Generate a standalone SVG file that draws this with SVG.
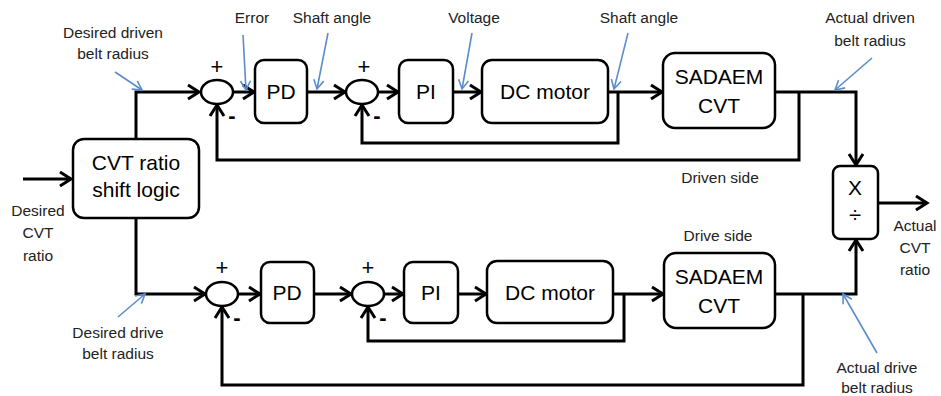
<svg xmlns="http://www.w3.org/2000/svg" width="941" height="396" viewBox="0 0 941 396">
<style>
.box{fill:#fff;stroke:#000;stroke-width:2.5}
.sum{fill:#fff;stroke:#000;stroke-width:2.5}
.w{fill:none;stroke:#000;stroke-width:3;stroke-linejoin:miter}
.b{fill:none;stroke:#5b8ccc;stroke-width:1.6}
.t{font-family:"Liberation Sans",Arial,sans-serif;font-size:21px;fill:#000;text-anchor:middle}
.l{font-family:"Liberation Sans",Arial,sans-serif;font-size:15.5px;fill:#222;text-anchor:middle}
.s{font-family:"Liberation Sans",Arial,sans-serif;font-size:22px;fill:#000;text-anchor:middle}
.m{font-family:"Liberation Sans",Arial,sans-serif;font-size:22px;font-weight:bold;fill:#000;text-anchor:middle}
</style>
<defs>
<marker id="ah" markerUnits="userSpaceOnUse" markerWidth="16" markerHeight="20" refX="13" refY="9" orient="auto">
<path d="M2,2 L13,9 L2,16" fill="none" stroke="#000" stroke-width="3"/>
</marker>
<marker id="bh" markerUnits="userSpaceOnUse" markerWidth="12" markerHeight="12" refX="10" refY="6" orient="auto">
<path d="M1,1 L10,6 L1,11" fill="none" stroke="#5b8ccc" stroke-width="1.6"/>
</marker>
</defs>

<g id="connectors">
<path class="w" d="M23,179 H71" marker-end="url(#ah)"/>
<path class="w" d="M136,139 V92 H199" marker-end="url(#ah)"/>
<path class="w" d="M233,92 H254" marker-end="url(#ah)"/>
<path class="w" d="M307,92 H345" marker-end="url(#ah)"/>
<path class="w" d="M379,92 H398" marker-end="url(#ah)"/>
<path class="w" d="M453,92 H481" marker-end="url(#ah)"/>
<path class="w" d="M608,92 H662" marker-end="url(#ah)"/>
<path class="w" d="M618,92 V143 H362 V105" marker-end="url(#ah)"/>
<path class="w" d="M775,92 H856 V165" marker-end="url(#ah)"/>
<path class="w" d="M799,92 V160 H217 V105" marker-end="url(#ah)"/>
<path class="w" d="M136,218 V294 H205" marker-end="url(#ah)"/>
<path class="w" d="M239,294 H260" marker-end="url(#ah)"/>
<path class="w" d="M314,294 H351" marker-end="url(#ah)"/>
<path class="w" d="M385,294 H403" marker-end="url(#ah)"/>
<path class="w" d="M458,294 H486" marker-end="url(#ah)"/>
<path class="w" d="M613,294 H663" marker-end="url(#ah)"/>
<path class="w" d="M624,294 V341 H368 V307" marker-end="url(#ah)"/>
<path class="w" d="M775,294 H856 V240" marker-end="url(#ah)"/>
<path class="w" d="M803,294 V385 H222 V307" marker-end="url(#ah)"/>
<path class="w" d="M878,203 H927" marker-end="url(#ah)"/>
<path class="b" d="M115,72 L142,90" marker-end="url(#bh)"/>
<path class="b" d="M243,35 L246,90" marker-end="url(#bh)"/>
<path class="b" d="M328,33 L317,89" marker-end="url(#bh)"/>
<path class="b" d="M472,33 L462,89" marker-end="url(#bh)"/>
<path class="b" d="M628,33 L614,89" marker-end="url(#bh)"/>
<path class="b" d="M872,58 L835,90" marker-end="url(#bh)"/>
<path class="b" d="M118,317 L145,294" marker-end="url(#bh)"/>
<path class="b" d="M877,353 L843,294" marker-end="url(#bh)"/>
</g>

<g id="shift-logic">
<rect class="box" x="73" y="139" width="126" height="79" rx="11"/>
<text class="t" x="136" y="170">CVT ratio</text>
<text class="t" x="136" y="197">shift logic</text>
</g>

<g id="sum1-top">
<ellipse class="sum" cx="217" cy="92" rx="16" ry="12"/>
<text class="s" x="217" y="74">+</text>
<text class="m" x="232" y="123">-</text>
</g>
<g id="pd-top">
<rect class="box" x="255" y="60" width="52" height="63" rx="9"/>
<text class="t" x="281" y="99">PD</text>
</g>
<g id="sum2-top">
<ellipse class="sum" cx="362" cy="92" rx="16" ry="12"/>
<text class="s" x="364" y="74">+</text>
<text class="m" x="377" y="123">-</text>
</g>
<g id="pi-top">
<rect class="box" x="399" y="60" width="54" height="63" rx="9"/>
<text class="t" x="426" y="99">PI</text>
</g>
<g id="dc-top">
<rect class="box" x="482" y="60" width="126" height="63" rx="10"/>
<text class="t" x="545" y="99">DC motor</text>
</g>
<g id="cvt-top">
<rect class="box" x="663" y="53" width="112" height="75" rx="12"/>
<text class="t" x="719" y="84">SADAEM</text>
<text class="t" x="719" y="113">CVT</text>
</g>

<g id="sum1-bot">
<ellipse class="sum" cx="222" cy="294" rx="16" ry="12"/>
<text class="s" x="222" y="275">+</text>
<text class="m" x="237" y="325">-</text>
</g>
<g id="pd-bot">
<rect class="box" x="261" y="262" width="53" height="61" rx="9"/>
<text class="t" x="287" y="300">PD</text>
</g>
<g id="sum2-bot">
<ellipse class="sum" cx="368" cy="294" rx="16" ry="12"/>
<text class="s" x="368" y="275">+</text>
<text class="m" x="383" y="325">-</text>
</g>
<g id="pi-bot">
<rect class="box" x="404" y="262" width="54" height="61" rx="9"/>
<text class="t" x="431" y="300">PI</text>
</g>
<g id="dc-bot">
<rect class="box" x="487" y="261" width="126" height="62" rx="10"/>
<text class="t" x="550" y="300">DC motor</text>
</g>
<g id="cvt-bot">
<rect class="box" x="664" y="253" width="111" height="75" rx="12"/>
<text class="t" x="719" y="284">SADAEM</text>
<text class="t" x="719" y="313">CVT</text>
</g>

<g id="muldiv">
<rect class="box" x="833" y="166" width="45" height="73" rx="7"/>
<text class="t" x="855" y="195">X</text>
<text class="s" x="855" y="222" fill="#444" font-size="16">÷</text>
</g>

<g id="labels">
<text class="l" x="113" y="38">Desired driven</text>
<text class="l" x="113" y="59">belt radius</text>
<text class="l" x="252" y="23">Error</text>
<text class="l" x="332" y="23">Shaft angle</text>
<text class="l" x="474" y="23">Voltage</text>
<text class="l" x="639" y="23">Shaft angle</text>
<text class="l" x="870" y="23">Actual driven</text>
<text class="l" x="870" y="46">belt radius</text>
<text class="l" x="38" y="216">Desired</text>
<text class="l" x="38" y="238">CVT</text>
<text class="l" x="38" y="261">ratio</text>
<text class="l" x="720" y="183">Driven side</text>
<text class="l" x="718" y="241">Drive side</text>
<text class="l" x="915" y="231">Actual</text>
<text class="l" x="915" y="253">CVT</text>
<text class="l" x="915" y="275">ratio</text>
<text class="l" x="118" y="338">Desired drive</text>
<text class="l" x="118" y="359">belt radius</text>
<text class="l" x="877" y="373">Actual drive</text>
<text class="l" x="877" y="393">belt radius</text>
</g>
</svg>
